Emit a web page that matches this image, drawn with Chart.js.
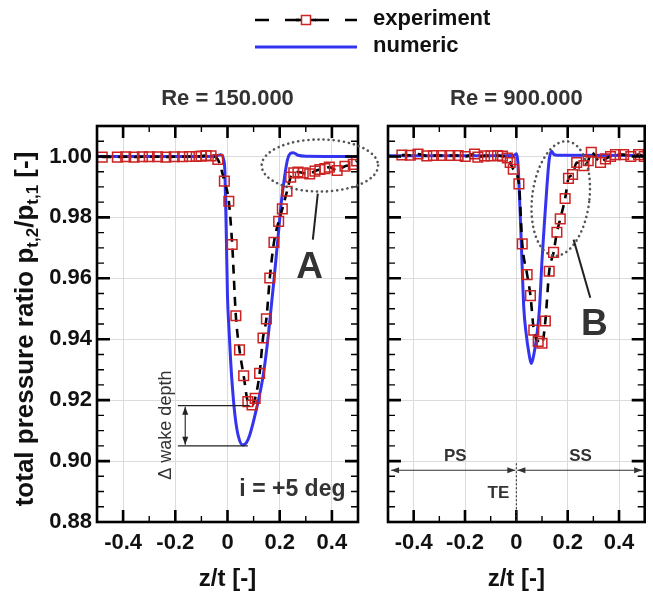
<!DOCTYPE html>
<html>
<head>
<meta charset="utf-8">
<script src="https://cdn.jsdelivr.net/npm/chart.js@4.4.1/dist/chart.umd.min.js"></script>
<style>
  html,body{margin:0;padding:0;background:#fff;}
  #wrap{position:relative;width:653px;height:598px;}
  canvas{position:absolute;left:0;top:0;}
</style>
</head>
<body>
<div id="wrap">
  <canvas id="left" width="653" height="598"></canvas>
  <canvas id="right" width="653" height="598"></canvas>
</div>
<script>
// ---------------- data ----------------
const seriesNames = ['experiment', 'numeric'];
const panelTitles = ['Re = 150.000', 'Re = 900.000'];
const xTickValues = [-0.4, -0.2, 0, 0.2, 0.4];
const yTickValues = [0.88, 0.90, 0.92, 0.94, 0.96, 0.98, 1.00];

// Re = 150.000, experiment
const leftExpZ = [-0.48, -0.422, -0.39, -0.358, -0.326, -0.30, -0.268, -0.236, -0.204, -0.172, -0.146, -0.12, -0.101, -0.082, -0.063, -0.037,
  -0.012, 0.005, 0.018, 0.032, 0.046, 0.062, 0.078, 0.094, 0.106, 0.123, 0.136, 0.149, 0.162, 0.178, 0.196, 0.210, 0.228, 0.242, 0.254,
  0.270, 0.290, 0.315, 0.335, 0.354, 0.373, 0.390, 0.420, 0.450, 0.482, 0.495];
const leftExpP = [0.9998, 0.9998, 0.9999, 0.9998, 0.9999, 0.9999, 0.9999, 0.9998, 0.9999, 0.9999, 1.0000, 1.0000, 1.0001, 1.0003, 1.0002, 0.9990,
  0.9919, 0.9853, 0.9711, 0.9477, 0.9365, 0.9280, 0.9195, 0.9184, 0.9206, 0.9288, 0.9404, 0.9467, 0.9601, 0.9718, 0.9787, 0.9828, 0.9886, 0.9932, 0.9946,
  0.9949, 0.9946, 0.9943, 0.9952, 0.9957, 0.9960, 0.9965, 0.9954, 0.9968, 0.9974, 0.9985];

// Re = 150.000, numeric
const leftNumZ = [-0.5, -0.2, -0.05, -0.025, -0.015, -0.010, -0.005, 0.000, 0.006, 0.012, 0.020, 0.030, 0.042, 0.058, 0.072,
  0.085, 0.110, 0.136, 0.152, 0.165, 0.178, 0.194, 0.206, 0.219, 0.230, 0.240, 0.252, 0.270, 0.300, 0.5];
const leftNumP = [1.0000, 1.0000, 1.0001, 1.0006, 0.9990, 0.9950, 0.9760, 0.9540, 0.9430, 0.9330, 0.9230, 0.9140, 0.9080, 0.9053, 0.9060,
  0.9085, 0.9168, 0.9277, 0.9380, 0.9485, 0.9595, 0.9738, 0.9848, 0.9935, 0.9990, 1.0009, 1.0012, 1.0004, 1.0001, 1.0000];

// Re = 900.000, experiment
const rightExpZ = [-0.446, -0.413, -0.383, -0.349, -0.323, -0.291, -0.259, -0.227, -0.199, -0.163, -0.150, -0.124, -0.099, -0.073, -0.054, -0.035,
  -0.024, -0.012, 0.010, 0.023, 0.042, 0.055, 0.068, 0.085, 0.100, 0.113, 0.128, 0.145, 0.158, 0.171, 0.190, 0.203, 0.219, 0.235,
  0.263, 0.280, 0.292, 0.328, 0.347, 0.367, 0.386, 0.418, 0.446, 0.476, 0.498];
const rightExpP = [1.0005, 1.0004, 1.0008, 1.0002, 1.0003, 1.0003, 1.0003, 1.0003, 1.0000, 1.0008, 0.9998, 1.0002, 1.0002, 1.0003, 1.0001, 0.9995,
  0.9980, 0.9958, 0.9910, 0.9713, 0.9612, 0.9543, 0.9430, 0.9393, 0.9387, 0.9460, 0.9623, 0.9685, 0.9751, 0.9795, 0.9862, 0.9928, 0.9941, 0.9980,
  0.9970, 0.9986, 1.0014, 0.9980, 0.9992, 1.0000, 1.0006, 1.0006, 1.0000, 1.0006, 1.0000];

// Re = 900.000, numeric
const rightNumZ = [-0.5, -0.2, -0.01, 0.001, 0.006, 0.010, 0.020, 0.029, 0.038, 0.049, 0.058, 0.068, 0.081, 0.090, 0.100, 0.110,
  0.119, 0.128, 0.137, 0.147, 0.160, 0.5];
const rightNumP = [1.0002, 1.0002, 1.0003, 1.0009, 0.9980, 0.9916, 0.9700, 0.9503, 0.9420, 0.9354, 0.9320, 0.9349, 0.9420, 0.9500, 0.9660, 0.9790,
  0.9900, 0.9990, 1.0017, 1.0006, 1.0004, 1.0003];

// ---------------- styling / helpers ----------------
const FONT = '"Liberation Sans", Arial, Helvetica, sans-serif';
const BLUE = '#3434f0';
const RED = '#cc2222';
const zip = (xs, ys) => xs.map((x, i) => ({ x, y: ys[i] }));

function datasets(expZ, expP, numZ, numP) {
  return [
    {
      label: seriesNames[0], data: zip(expZ, expP),
      borderColor: '#000', borderWidth: 2.6, borderDash: [9, 7],
      pointStyle: 'rect', pointRadius: 6.8, pointBorderColor: RED, pointBorderWidth: 1.5,
      pointBackgroundColor: 'rgba(0,0,0,0)', cubicInterpolationMode: 'monotone', fill: false
    },
    {
      label: seriesNames[1], data: zip(numZ, numP),
      borderColor: BLUE, borderWidth: 3, pointRadius: 0,
      cubicInterpolationMode: 'monotone', fill: false
    }
  ];
}

const framePlugin = {
  id: 'frameTicks',
  afterDatasetsDraw(chart) {
    const { ctx, chartArea: a, scales: { x, y } } = chart;
    ctx.save();
    ctx.strokeStyle = '#000';
    ctx.lineCap = 'butt';
    for (let k = -5; k <= 5; k++) {
      if (Math.abs(k) === 5) continue;
      const major = k % 2 === 0;
      const px = x.getPixelForValue(k / 10);
      const L = major ? 12 : 6;
      ctx.lineWidth = major ? 2.6 : 1.4;
      ctx.beginPath();
      ctx.moveTo(px, a.bottom); ctx.lineTo(px, a.bottom - L);
      ctx.moveTo(px, a.top); ctx.lineTo(px, a.top + L);
      ctx.stroke();
    }
    for (let k = 1; k <= 25; k++) {
      const major = k % 4 === 0;
      const py = y.getPixelForValue(0.88 + k * 0.005);
      const L = major ? 13 : 7;
      ctx.lineWidth = major ? 2.6 : 1.4;
      ctx.beginPath();
      ctx.moveTo(a.left, py); ctx.lineTo(a.left + L, py);
      ctx.moveTo(a.right, py); ctx.lineTo(a.right - L, py);
      ctx.stroke();
    }
    ctx.lineWidth = 2.6;
    ctx.strokeRect(a.left, a.top, a.right - a.left, a.bottom - a.top);
    ctx.restore();
  }
};

function arrowHead(ctx, x, y, dx, dy) {
  const len = 8, hw = 3;
  const n = Math.hypot(dx, dy); const ux = dx / n, uy = dy / n;
  ctx.beginPath();
  ctx.moveTo(x, y);
  ctx.lineTo(x - ux * len - uy * hw, y - uy * len + ux * hw);
  ctx.lineTo(x - ux * len + uy * hw, y - uy * len - ux * hw);
  ctx.closePath();
  ctx.fill();
}
function dblArrow(ctx, x1, y1, x2, y2) {
  ctx.beginPath(); ctx.moveTo(x1, y1); ctx.lineTo(x2, y2); ctx.stroke();
  arrowHead(ctx, x2, y2, x2 - x1, y2 - y1);
  arrowHead(ctx, x1, y1, x1 - x2, y1 - y2);
}
function dottedEllipse(ctx, chart, cz, cp, dz, dp, rot) {
  const { x, y } = chart.scales;
  const cx = x.getPixelForValue(cz), cy = y.getPixelForValue(cp);
  const rx = Math.abs(x.getPixelForValue(cz + dz) - cx);
  const ry = Math.abs(y.getPixelForValue(cp + dp) - cy);
  ctx.save();
  ctx.strokeStyle = '#555';
  ctx.lineWidth = 2.6;
  ctx.lineCap = 'round';
  ctx.setLineDash([0.1, 5]);
  ctx.beginPath();
  ctx.ellipse(cx, cy, rx, ry, rot, 0, Math.PI * 2);
  ctx.stroke();
  ctx.restore();
}
function seg(ctx, chart, z1, p1, z2, p2) {
  const { x, y } = chart.scales;
  ctx.beginPath();
  ctx.moveTo(x.getPixelForValue(z1), y.getPixelForValue(p1));
  ctx.lineTo(x.getPixelForValue(z2), y.getPixelForValue(p2));
  ctx.stroke();
}
function label(ctx, chart, text, z, p, font, color, align) {
  const { x, y } = chart.scales;
  ctx.save();
  ctx.font = font; ctx.fillStyle = color;
  ctx.textAlign = align || 'center'; ctx.textBaseline = 'middle';
  ctx.fillText(text, x.getPixelForValue(z), y.getPixelForValue(p));
  ctx.restore();
}

const leftAnnot = {
  id: 'leftAnnot',
  afterDraw(chart) {
    const { ctx } = chart;
    const { x, y } = chart.scales;
    // ellipse A
    dottedEllipse(ctx, chart, 0.354, 0.99704, 0.223, 0.00855, 0);
    ctx.save();
    ctx.strokeStyle = '#222'; ctx.lineWidth = 2;
    seg(ctx, chart, 0.346, 0.9878, 0.327, 0.9727);
    ctx.restore();
    label(ctx, chart, 'A', 0.315, 0.9635, 'bold 37px ' + FONT, '#333');
    // wake depth
    ctx.save();
    ctx.strokeStyle = '#222'; ctx.fillStyle = '#222'; ctx.lineWidth = 1.1;
    seg(ctx, chart, -0.19, 0.9182, 0.085, 0.9182);
    seg(ctx, chart, -0.19, 0.9050, 0.078, 0.9050);
    const ax = x.getPixelForValue(-0.162);
    dblArrow(ctx, ax, y.getPixelForValue(0.9182) + 1, ax, y.getPixelForValue(0.9050) - 1);
    ctx.translate(x.getPixelForValue(-0.235), y.getPixelForValue(0.9118));
    ctx.rotate(-Math.PI / 2);
    ctx.font = '18px ' + FONT; ctx.fillStyle = '#333';
    ctx.textAlign = 'center'; ctx.textBaseline = 'middle';
    ctx.fillText('\u0394 wake depth', 0, 0);
    ctx.restore();
    label(ctx, chart, 'i = +5 deg', 0.452, 0.8905, 'bold 23px ' + FONT, '#333', 'right');

    // y-axis title with subscripts
    const big = 'bold 26px ' + FONT, small = 'bold 17px ' + FONT;
    const parts = [['total pressure ratio p', big, 0], ['t,2', small, 7], ['/p', big, 0], ['t,1', small, 7], [' [-]', big, 0]];
    ctx.save();
    let total = 0;
    parts.forEach(pt => { ctx.font = pt[1]; total += ctx.measureText(pt[0]).width; });
    ctx.translate(26, 329);
    ctx.rotate(-Math.PI / 2);
    ctx.fillStyle = '#111'; ctx.textBaseline = 'middle'; ctx.textAlign = 'left';
    let cx = -total / 2;
    parts.forEach(pt => { ctx.font = pt[1]; ctx.fillText(pt[0], cx, pt[2]); cx += ctx.measureText(pt[0]).width; });
    ctx.restore();

    // legend
    ctx.save();
    ctx.strokeStyle = '#000'; ctx.lineWidth = 2.6; ctx.setLineDash([14, 16]);
    ctx.beginPath(); ctx.moveTo(255, 20); ctx.lineTo(357, 20); ctx.stroke();
    ctx.setLineDash([]);
    ctx.beginPath(); ctx.moveTo(296, 20); ctx.lineTo(316, 20); ctx.stroke();
    ctx.fillStyle = '#fff'; ctx.fillRect(301.5, 15.5, 9, 9);
    ctx.strokeStyle = RED; ctx.lineWidth = 1.5; ctx.strokeRect(301.5, 15.5, 9, 9);
    ctx.strokeStyle = BLUE; ctx.lineWidth = 3;
    ctx.beginPath(); ctx.moveTo(255, 47); ctx.lineTo(357, 47); ctx.stroke();
    ctx.font = 'bold 22px ' + FONT; ctx.fillStyle = '#111'; ctx.textBaseline = 'middle'; ctx.textAlign = 'left';
    ctx.fillText(seriesNames[0], 373, 19);
    ctx.fillText(seriesNames[1], 373, 46);
    ctx.restore();
  }
};

const rightAnnot = {
  id: 'rightAnnot',
  afterDraw(chart) {
    const { ctx } = chart;
    const { x, y } = chart.scales;
    dottedEllipse(ctx, chart, 0.173, 0.9862, 0.1115, 0.0189, 0.12);
    ctx.save();
    ctx.strokeStyle = '#222'; ctx.lineWidth = 2;
    seg(ctx, chart, 0.223, 0.9727, 0.288, 0.9536);
    ctx.restore();
    label(ctx, chart, 'B', 0.304, 0.9447, 'bold 37px ' + FONT, '#333');
    // PS / SS arrows
    ctx.save();
    ctx.strokeStyle = '#333'; ctx.fillStyle = '#333'; ctx.lineWidth = 1.1;
    const py = y.getPixelForValue(0.897);
    dblArrow(ctx, x.getPixelForValue(-0.488), py, x.getPixelForValue(-0.004), py);
    dblArrow(ctx, x.getPixelForValue(0.004), py, x.getPixelForValue(0.49), py);
    ctx.setLineDash([2, 2]);
    ctx.beginPath();
    ctx.moveTo(x.getPixelForValue(0), y.getPixelForValue(0.8993));
    ctx.lineTo(x.getPixelForValue(0), y.getPixelForValue(0.88));
    ctx.stroke();
    ctx.restore();
    label(ctx, chart, 'PS', -0.238, 0.9015, 'bold 17px ' + FONT, '#333');
    label(ctx, chart, 'SS', 0.25, 0.9015, 'bold 17px ' + FONT, '#333');
    label(ctx, chart, 'TE', -0.07, 0.8893, 'bold 17px ' + FONT, '#333');
  }
};

function makeOptions(title, showYLabels, yWidth, padRight) {
  return {
    responsive: false, animation: false, devicePixelRatio: 1,
    layout: { padding: { left: 0, right: padRight, top: 76, bottom: 0 } },
    plugins: {
      legend: { display: false },
      tooltip: { enabled: false },
      title: {
        display: true, text: title, fullSize: false, color: '#333',
        font: { family: FONT, size: 22, weight: 'bold' }, padding: { top: 10, bottom: 13.6 }
      }
    },
    scales: {
      x: {
        type: 'linear', min: -0.5, max: 0.5,
        afterBuildTicks: s => { s.ticks = xTickValues.map(v => ({ value: v })); },
        afterFit: s => { s.height = 76; },
        grid: { color: '#dcdcdc', lineWidth: 1, drawTicks: false },
        border: { display: false },
        ticks: {
          padding: 8, color: '#111', maxRotation: 0,
          font: { family: FONT, size: 22, weight: 'bold' },
          callback: v => (Math.abs(v) < 1e-9 ? '0' : String(+v.toFixed(1)))
        },
        title: { display: true, text: 'z/t [-]', color: '#111', font: { family: FONT, size: 24, weight: 'bold' }, padding: { top: 0, bottom: 4 } }
      },
      y: {
        type: 'linear', min: 0.88, max: 1.01,
        afterBuildTicks: s => { s.ticks = yTickValues.map(v => ({ value: v })); },
        afterFit: s => { s.width = yWidth; },
        grid: { color: '#dcdcdc', lineWidth: 1, drawTicks: false },
        border: { display: false },
        ticks: {
          display: showYLabels, padding: 5, color: '#111',
          font: { family: FONT, size: 22, weight: 'bold' },
          callback: v => v.toFixed(2)
        }
      }
    }
  };
}

new Chart(document.getElementById('left'), {
  type: 'line',
  data: { datasets: datasets(leftExpZ, leftExpP, leftNumZ, leftNumP) },
  options: makeOptions(panelTitles[0], true, 97, 295),
  plugins: [framePlugin, leftAnnot]
});
new Chart(document.getElementById('right'), {
  type: 'line',
  data: { datasets: datasets(rightExpZ, rightExpP, rightNumZ, rightNumP) },
  options: makeOptions(panelTitles[1], false, 388, 3),
  plugins: [framePlugin, rightAnnot]
});
</script>
</body>
</html>
